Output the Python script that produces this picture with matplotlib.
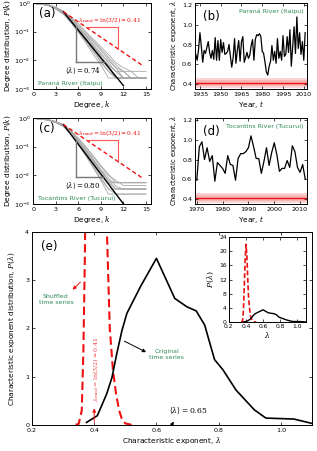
import numpy as np
import matplotlib
matplotlib.use("Agg")
import matplotlib.pyplot as plt

# degree values for panels (a) and (c)
k_vals = list(range(16))

# yearly degree distributions, Parana River (Itaipu)
gray_a = [
    [0.97, 0.93, 0.85, 0.66, 0.45, 0.24, 0.11, 0.052, 0.024, 0.011, 0.0055, 0.0024, 0.0024, 0.0024, 0.0024, 0.0024],
    [0.98, 0.95, 0.88, 0.70, 0.50, 0.29, 0.15, 0.075, 0.036, 0.018, 0.0082, 0.0041, 0.0024, 0.0024, 0.0024, 0.0024],
    [0.97, 0.92, 0.82, 0.62, 0.41, 0.21, 0.095, 0.041, 0.016, 0.0068, 0.0024, 0.0024, 0.0024, 0.0024, 0.0024, 0.0024],
    [0.98, 0.95, 0.88, 0.71, 0.52, 0.31, 0.17, 0.09, 0.047, 0.025, 0.013, 0.0068, 0.0041, 0.0024, 0.0024, 0.0024],
    [0.97, 0.93, 0.84, 0.64, 0.44, 0.23, 0.12, 0.058, 0.030, 0.016, 0.0096, 0.0055, 0.0041, 0.0041, 0.0041, 0.0041],
    [0.98, 0.94, 0.86, 0.68, 0.48, 0.27, 0.13, 0.060, 0.027, 0.012, 0.0055, 0.0024, 0.0024, 0.0024, 0.0024, 0.0024],
    [0.97, 0.93, 0.83, 0.63, 0.42, 0.22, 0.10, 0.046, 0.020, 0.0096, 0.0041, 0.0024, 0.0024, 0.0024, 0.0024, 0.0024],
    [0.98, 0.95, 0.87, 0.69, 0.49, 0.28, 0.14, 0.068, 0.033, 0.014, 0.0068, 0.0041, 0.0024, 0.0024, 0.0024, 0.0024],
    [0.98, 0.94, 0.86, 0.67, 0.46, 0.26, 0.14, 0.078, 0.044, 0.022, 0.011, 0.0055, 0.0024, 0.0024, 0.0024, 0.0024],
    [0.97, 0.93, 0.84, 0.65, 0.45, 0.25, 0.12, 0.055, 0.025, 0.012, 0.0068, 0.0041, 0.0041, 0.0024, 0.0024, 0.0024],
    [0.98, 0.95, 0.89, 0.72, 0.53, 0.33, 0.19, 0.10, 0.055, 0.030, 0.016, 0.0082, 0.0055, 0.0041, 0.0024, 0.0024],
    [0.97, 0.92, 0.83, 0.63, 0.43, 0.23, 0.11, 0.050, 0.022, 0.0082, 0.0041, 0.0024, 0.0024, 0.0024, 0.0024, 0.0024],
]

# yearly degree distributions, Tocantins River (Tucurui)
gray_c = [
    [0.97, 0.94, 0.86, 0.72, 0.55, 0.30, 0.14, 0.062, 0.026, 0.011, 0.0055, 0.0055, 0.0055, 0.0055, 0.0055, 0.0055],
    [0.98, 0.95, 0.88, 0.75, 0.58, 0.34, 0.17, 0.080, 0.036, 0.016, 0.0082, 0.0041, 0.0033, 0.0033, 0.0033, 0.0033],
    [0.97, 0.93, 0.85, 0.70, 0.52, 0.28, 0.12, 0.050, 0.019, 0.0074, 0.0033, 0.0033, 0.0033, 0.0033, 0.0033, 0.0033],
    [0.98, 0.95, 0.89, 0.77, 0.60, 0.37, 0.20, 0.10, 0.048, 0.022, 0.011, 0.0055, 0.0055, 0.0055, 0.0055, 0.0055],
    [0.97, 0.94, 0.86, 0.71, 0.53, 0.29, 0.13, 0.055, 0.022, 0.0088, 0.0033, 0.0022, 0.0022, 0.0022, 0.0022, 0.0022],
    [0.98, 0.94, 0.87, 0.73, 0.56, 0.32, 0.16, 0.072, 0.032, 0.014, 0.0066, 0.0033, 0.0033, 0.0033, 0.0033, 0.0033],
    [0.97, 0.93, 0.84, 0.69, 0.51, 0.27, 0.12, 0.048, 0.018, 0.0066, 0.0022, 0.0022, 0.0022, 0.0022, 0.0022, 0.0022],
    [0.98, 0.95, 0.88, 0.76, 0.59, 0.36, 0.19, 0.092, 0.043, 0.020, 0.0099, 0.0066, 0.0044, 0.0044, 0.0044, 0.0044],
    [0.97, 0.94, 0.86, 0.72, 0.54, 0.31, 0.15, 0.068, 0.030, 0.013, 0.0055, 0.0033, 0.0033, 0.0033, 0.0033, 0.0033],
    [0.98, 0.95, 0.87, 0.74, 0.57, 0.33, 0.16, 0.075, 0.034, 0.015, 0.0066, 0.0055, 0.0055, 0.0055, 0.0055, 0.0055],
]

# fitted exponential lines, endpoints (k, P)
fit_a_k = [4, 12]
fit_a_p = [0.5, 0.0013]
rand_a_k = [4, 14.5]
rand_a_p = [0.5, 0.0067]
fit_c_k = [4, 12]
fit_c_p = [0.6, 0.001]
rand_c_k = [4, 14.5]
rand_c_p = [0.6, 0.0081]

# characteristic exponent per year
years_b = list(range(1932, 2012))
lam_b = [0.70, 0.64, 0.75, 0.92, 0.78, 0.62, 0.74, 0.71, 0.77, 0.83,
         0.72, 0.66, 0.74, 0.65, 0.87, 0.64, 0.84, 0.64, 0.85, 0.72,
         0.82, 0.70, 0.71, 0.73, 0.80, 0.68, 0.57, 0.67, 0.86, 0.61,
         0.74, 0.84, 0.63, 0.83, 0.88, 0.62, 0.67, 0.72, 0.66, 0.69,
         0.79, 0.85, 0.64, 0.85, 0.90, 0.89, 0.91, 0.88, 0.73, 0.71,
         0.62, 0.52, 0.49, 0.58, 0.63, 0.79, 0.64, 0.73, 0.61, 0.86,
         0.66, 0.73, 0.64, 0.89, 0.68, 0.70, 0.88, 0.72, 0.95, 0.58,
         0.78, 0.98, 0.71, 1.08, 0.76, 0.92, 0.70, 0.83, 0.64, 0.92]
years_d = list(range(1970, 2013))
lam_d = [0.59, 0.93, 0.98, 0.80, 0.92, 0.78, 0.84, 0.58, 0.77, 0.74,
         0.71, 0.66, 0.84, 0.75, 0.74, 0.59, 0.81, 0.86, 0.86, 0.88,
         0.92, 1.04, 0.93, 0.81, 0.81, 0.66, 0.78, 0.92, 0.74, 0.87,
         0.97, 0.85, 0.68, 0.71, 0.71, 0.79, 0.72, 0.94, 0.88, 0.72,
         0.67, 0.75, 0.60]
# shuffled series: mean and band
shuf_mean = 0.41
shuf_band = [0.355, 0.46]
shuf_inner = [0.38, 0.44]

# distribution of characteristic exponents, panel (e)
orig_x = [0.375, 0.41, 0.44, 0.457, 0.473, 0.489, 0.505, 0.55, 0.60, 0.659,
          0.697, 0.728, 0.755, 0.787, 0.814, 0.856, 0.915, 0.952, 1.042, 1.10]
orig_y = [0.05, 0.19, 0.64, 0.98, 1.49, 1.95, 2.31, 2.88, 3.45, 2.62,
          2.45, 2.36, 2.07, 1.35, 1.14, 0.72, 0.31, 0.14, 0.12, 0.03]
shuf_x = [0.34, 0.35, 0.36, 0.365, 0.37, 0.38, 0.39, 0.40, 0.41, 0.42,
          0.43, 0.44, 0.45, 0.46, 0.47, 0.48, 0.49, 0.50, 0.52]
shuf_y = [0.0, 0.02, 0.3, 1.5, 3.5, 10.0, 17.5, 22.0, 19.0, 12.5,
          7.0, 4.2, 2.0, 1.15, 0.65, 0.3, 0.1, 0.03, 0.0]

GREEN = '#2e8b57'
RED = '#ee1111'
FS = 4.6
LFS = 5.3

plt.rcParams['font.family'] = ['DejaVu Sans']
plt.rcParams['mathtext.fontset'] = 'dejavuserif'

fig = plt.figure(figsize=(3.17, 4.51), dpi=100)


def style(ax):
    ax.tick_params(direction='in', top=True, right=True, labelsize=FS,
                   length=2.2, width=0.5, pad=2)
    ax.tick_params(which='minor', direction='in', top=True, right=True,
                   length=1.2, width=0.4)
    for s in ax.spines.values():
        s.set_linewidth(0.7)


def degree_panel(rect, gray, fk, fp, rk, rp, lam_txt, river, tag):
    ax = fig.add_axes(rect)
    for g in gray:
        ax.plot(k_vals, g, color='#a8a8a8', lw=0.6)
    ax.plot(fk, fp, color='black', lw=1.0)
    ax.plot(rk, rp, color=RED, lw=1.0, ls=(0, (3, 2)))
    ax.set_yscale('log')
    ax.set_xlim(0, 15.7)
    ax.set_ylim(1e-3, 1)
    ax.set_xticks([0, 3, 6, 9, 12, 15])
    ax.set_yticks([1e-3, 1e-2, 1e-1, 1])
    style(ax)
    ax.tick_params(which='minor', left=False, right=False)
    ax.set_xlabel('Degree, $k$', fontsize=LFS, labelpad=2)
    ax.set_ylabel('Degree distribution, $P(k)$', fontsize=LFS, labelpad=1)

    # slope triangles
    def line_at(k, kk, pp):
        s = (np.log(pp[1]) - np.log(pp[0])) / (kk[1] - kk[0])
        return pp[0] * np.exp(s * (k - kk[0]))
    k1, k2 = 7.0, 11.3
    ax.plot([k1, k2, k2], [line_at(k1, rk, rp)] * 2 + [line_at(k2, rk, rp)],
            color='#ff5555', lw=0.8)
    k3 = 5.7
    lev = 0.009
    ax.plot([k3, k3], [line_at(k3, fk, fp), lev], color='#777777', lw=1.0)
    kk = fk[0] + np.log(lev / fp[0]) / ((np.log(fp[1]) - np.log(fp[0])) / (fk[1] - fk[0]))
    ax.plot([k3, kk], [lev, lev], color='#777777', lw=1.0)
    ax.text(10.2, line_at(k1, rk, rp) * 1.15, r'$\lambda_{\rm rand} = \ln(3/2) \approx 0.41$',
            color=RED, fontsize=4.3, ha='center', va='bottom')
    ax.text(6.6, lev * 0.75, r'$\langle\lambda\rangle = %s$' % lam_txt,
            fontsize=5, ha='center', va='top')
    ax.text(0.05, 0.84, tag, transform=ax.transAxes, fontsize=8.5)
    ax.text(0.04, 0.04, river, transform=ax.transAxes, fontsize=4.5, color=GREEN)
    return ax


def year_panel(rect, yrs, lam, xlim, xticks, river, tag):
    ax = fig.add_axes(rect)
    ax.fill_between(xlim, [shuf_band[0]] * 2, [shuf_band[1]] * 2,
                    color='#f7b8b8', alpha=0.6, lw=0)
    ax.fill_between(xlim, [shuf_inner[0]] * 2, [shuf_inner[1]] * 2,
                    color='#f49a9a', alpha=0.5, lw=0)
    ax.plot(xlim, [shuf_mean] * 2, color=RED, lw=1.0)
    ax.plot(yrs, lam, color='black', lw=0.9)
    ax.set_xlim(*xlim)
    ax.set_ylim(0.35, 1.22)
    ax.set_xticks(xticks)
    ax.set_yticks([0.4, 0.6, 0.8, 1.0, 1.2])
    style(ax)
    ax.set_xlabel('Year, $t$', fontsize=LFS, labelpad=2)
    ax.set_ylabel(r'Characteristic exponent, $\lambda$', fontsize=4.9, labelpad=2)
    ax.text(0.07, 0.8, tag, transform=ax.transAxes, fontsize=8.5)
    ax.text(0.97, 0.88, river, transform=ax.transAxes, fontsize=4.5,
            color=GREEN, ha='right')
    return ax


degree_panel([0.105, 0.803, 0.372, 0.19], gray_a, fit_a_k, fit_a_p,
             rand_a_k, rand_a_p, '0.74', 'Paraná River (Itaipu)', '(a)')
degree_panel([0.105, 0.548, 0.372, 0.19], gray_c, fit_c_k, fit_c_p,
             rand_c_k, rand_c_p, '0.80', 'Tocantins River (Tucuruí)', '(c)')
year_panel([0.615, 0.803, 0.352, 0.19], years_b, lam_b, (1931.4, 2012),
           [1935, 1950, 1965, 1980, 1995, 2010], 'Paraná River (Itaipu)', '(b)')
year_panel([0.615, 0.548, 0.352, 0.19], years_d, lam_d, (1969.3, 2012.5),
           [1970, 1980, 1990, 2000, 2010], 'Tocantins River (Tucuruí)', '(d)')

# panel (e)
ax = fig.add_axes([0.101, 0.058, 0.883, 0.428])
ax.plot(shuf_x, shuf_y, color=RED, lw=1.5, ls=(0, (4, 2)))
ax.plot(orig_x, orig_y, color='black', lw=1.2)
ax.set_xlim(0.2, 1.1)
ax.set_ylim(0, 4)
ax.set_xticks([0.2, 0.4, 0.6, 0.8, 1.0])
ax.set_yticks([0, 1, 2, 3, 4])
ax.set_xticklabels(['0.2', '0.4', '0.6', '0.8', '1.0'])
style(ax)
ax.set_xlabel(r'Characteristic exponent, $\lambda$', fontsize=LFS, labelpad=2)
ax.set_ylabel(r'Characteristic exponent distribution, $P(\lambda)$', fontsize=LFS, labelpad=6)
ax.text(0.23, 3.62, '(e)', fontsize=8.5)
ax.text(0.277, 2.59, 'Shuffled\ntime series', color=GREEN, fontsize=4.5,
        ha='center', va='center')
ax.annotate('', xy=(0.324, 2.76), xytext=(0.362, 3.0),
            arrowprops=dict(arrowstyle='-|>', color=RED, lw=0.7,
                            mutation_scale=5))
ax.text(0.633, 1.45, 'Original\ntime series', color=GREEN, fontsize=4.5,
        ha='center', va='center')
ax.annotate('', xy=(0.575, 1.48), xytext=(0.489, 1.76),
            arrowprops=dict(arrowstyle='-|>', color='black', lw=0.7,
                            mutation_scale=5))
ax.annotate('', xy=(0.4, 0.4), xytext=(0.4, 0.0),
            arrowprops=dict(arrowstyle='-|>', color=RED, lw=0.7,
                            mutation_scale=5))
ax.text(0.407, 1.15, r'$\lambda_{\rm rand} = \ln(3/2) \approx 0.41$',
        color='#ee4444', fontsize=4.5, rotation=90, ha='center', va='center')
ax.annotate('', xy=(0.66, 0.12), xytext=(0.648, -0.02),
            arrowprops=dict(arrowstyle='-|>', color='black', lw=0.7,
                            mutation_scale=5))
ax.text(0.642, 0.3, r'$\langle\lambda\rangle = 0.65$', fontsize=5.5, va='center')

# inset
ins = fig.add_axes([0.722, 0.286, 0.243, 0.188])
ins.plot(shuf_x, shuf_y, color=RED, lw=1.2, ls=(0, (3, 1.5)))
ins.plot(orig_x, orig_y, color='black', lw=1.0)
ins.set_xlim(0.2, 1.1)
ins.set_ylim(0, 24)
ins.set_xticks([0.2, 0.4, 0.6, 0.8, 1.0])
ins.set_xticklabels(['0.2', '0.4', '0.6', '0.8', '1.0'])
ins.set_yticks([0, 4, 8, 12, 16, 20, 24])
style(ins)
ins.tick_params(labelsize=4.3, pad=1.5)
ins.set_xlabel(r'$\lambda$', fontsize=5.5, labelpad=1)
ins.set_ylabel(r'$P(\lambda)$', fontsize=5.5, labelpad=2)

fig.savefig('out.png', dpi=100)
